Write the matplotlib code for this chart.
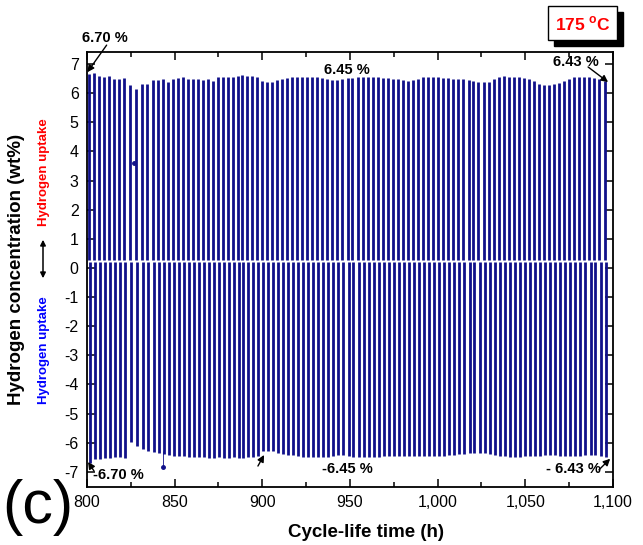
import numpy as np
import matplotlib
matplotlib.use("Agg")
import matplotlib.pyplot as plt
from matplotlib.ticker import MultipleLocator, FuncFormatter
from matplotlib.patches import Rectangle

plt.rcParams['font.family'] = ['Liberation Sans', 'DejaVu Sans']
plt.rcParams['axes.unicode_minus'] = False
plt.rcParams['mathtext.fontset'] = 'custom'
plt.rcParams['mathtext.bf'] = 'Liberation Sans:bold'
plt.rcParams['mathtext.rm'] = 'Liberation Sans'

# cycle start times (h), one per absorption/desorption column
cycle_times = [801.3, 804.2, 807.0, 809.9, 812.7, 815.6, 818.4, 821.3, 824.5, 828.0,
               831.5, 834.4, 837.8, 840.7, 843.5, 846.4, 849.2, 852.1, 854.9, 857.8,
               860.6, 863.5, 866.3, 869.2, 871.7, 874.6, 877.4, 880.3, 883.1, 886.0,
               888.3, 891.1, 894.0, 896.8,
               899.7, 902.6, 905.4, 908.3, 911.2, 914.1, 916.9, 919.8, 922.7, 925.6,
               928.4, 931.3, 934.2, 937.1, 939.9, 942.8, 945.7, 948.6, 951.4, 954.3,
               957.2, 960.1, 962.9, 965.8, 968.7, 971.6, 974.4, 977.3, 980.2, 983.1,
               985.9, 988.8, 991.7, 994.6, 997.4, 1000.3,
               1003.2, 1006.1, 1008.9, 1011.8, 1014.7, 1017.6, 1020.4, 1023.3, 1026.2,
               1029.1, 1031.9, 1034.8, 1037.7, 1040.6, 1043.4, 1046.3, 1049.2, 1052.1,
               1054.9, 1057.8, 1060.7, 1063.6, 1066.4, 1069.3, 1072.2, 1075.1, 1077.9,
               1080.8, 1083.7, 1086.6, 1089.4, 1092.3, 1095.2]

# max hydrogen uptake per cycle (wt%)
uptake_max = [6.66, 6.68, 6.58, 6.55, 6.58, 6.50, 6.50, 6.52, 6.28, 6.15,
              6.30, 6.32, 6.45, 6.45, 6.50, 6.37, 6.47, 6.53, 6.55, 6.50,
              6.48, 6.47, 6.45, 6.50, 6.42, 6.55, 6.57, 6.57, 6.57, 6.60,
              6.62, 6.60, 6.60, 6.55,
              6.42, 6.40, 6.40, 6.45, 6.50, 6.53, 6.55, 6.55, 6.56, 6.56,
              6.55, 6.55, 6.52, 6.48, 6.45, 6.44, 6.48, 6.52, 6.53, 6.55,
              6.55, 6.54, 6.55, 6.54, 6.53, 6.52, 6.50, 6.47, 6.44, 6.42,
              6.44, 6.48, 6.55, 6.56, 6.55, 6.55,
              6.52, 6.52, 6.50, 6.50, 6.48, 6.45, 6.42, 6.38, 6.37, 6.40,
              6.47, 6.55, 6.58, 6.56, 6.55, 6.55, 6.53, 6.50, 6.42, 6.33,
              6.28, 6.27, 6.30, 6.35, 6.42, 6.50, 6.54, 6.55, 6.55, 6.54,
              6.52, 6.47, 6.43]

# max hydrogen release per cycle (plotted negative)
release_max = [-6.68, -6.56, -6.55, -6.53, -6.52, -6.50, -6.50, -6.53, -5.98, -6.10,
               -6.22, -6.28, -6.32, -6.36, -6.40, -6.42, -6.44, -6.45, -6.47, -6.48,
               -6.48, -6.50, -6.50, -6.52, -6.52, -6.50, -6.52, -6.53, -6.50, -6.52,
               -6.52, -6.50, -6.48, -6.45,
               -6.30, -6.27, -6.30, -6.36, -6.40, -6.42, -6.43, -6.46, -6.48, -6.50,
               -6.50, -6.50, -6.50, -6.48, -6.45, -6.42, -6.42, -6.45, -6.48, -6.50,
               -6.50, -6.50, -6.50, -6.48, -6.46, -6.45, -6.45, -6.45, -6.44, -6.44,
               -6.45, -6.46, -6.45, -6.45, -6.45, -6.44,
               -6.44, -6.43, -6.42, -6.40, -6.38, -6.36, -6.35, -6.35, -6.36, -6.38,
               -6.42, -6.45, -6.47, -6.48, -6.48, -6.48, -6.47, -6.46, -6.45, -6.44,
               -6.42, -6.42, -6.43, -6.45, -6.46, -6.46, -6.45, -6.44, -6.42, -6.42,
               -6.43, -6.45, -6.50]

# stray points
stray_t = [826.8, 843.1]
stray_y = [3.6, -6.83]

navy = '#10108a'

fig = plt.figure(figsize=(6.43, 5.45), dpi=100)
ax = fig.add_axes([0.1353, 0.1064, 0.818, 0.798])

t = np.array(cycle_times)
ax.vlines(t, 0.29, uptake_max, colors=navy, linewidth=2.0)
ax.vlines(t + 0.6, 0.22, release_max, colors=navy, linewidth=2.0)
ax.plot(stray_t, stray_y, 'o', color=navy, ms=2.5)
ax.vlines(stray_t[1], -6.3, stray_y[1], colors=navy, linewidth=0.6)

ax.set_xlim(800, 1100)
ax.set_ylim(-7.52, 7.41)
ax.xaxis.set_major_locator(MultipleLocator(50))
ax.xaxis.set_minor_locator(MultipleLocator(25))
ax.yaxis.set_major_locator(MultipleLocator(1))
ax.xaxis.set_major_formatter(FuncFormatter(lambda v, p: f'{v:,.0f}'))
ax.tick_params(which='both', direction='in', top=True, right=True, width=1.1)
ax.tick_params(which='major', length=6, labelsize=11.5, pad=6)
ax.tick_params(which='minor', length=3.5)
for s in ax.spines.values():
    s.set_linewidth(1.3)

ax.set_xlabel('Cycle-life time (h)', fontsize=13.5, fontweight='bold')
ax.xaxis.set_label_coords(0.53, -0.085)
ax.set_ylabel('Hydrogen concentration (wt%)', fontsize=13.5, fontweight='bold')
ax.yaxis.set_label_coords(-0.117, 0.5)

fig.text(44 / 643, 1 - 172 / 545, 'Hydrogen uptake', color='red', rotation=90,
         fontsize=9.5, fontweight='bold', ha='center', va='center')
fig.text(44 / 643, 1 - 350 / 545, 'Hydrogen uptake', color='blue', rotation=90,
         fontsize=9.5, fontweight='bold', ha='center', va='center')
ax.annotate('', xy=(43 / 643, 1 - 237 / 545), xytext=(43 / 643, 1 - 281 / 545),
            xycoords='figure fraction', textcoords='figure fraction',
            arrowprops=dict(arrowstyle='<|-|>', color='k', lw=1.1, mutation_scale=8))

fig.text(38 / 643, 1 - 508 / 545, '(c)', fontsize=44, ha='center', va='center')

# value labels
lbl = dict(fontsize=10.5, fontweight='bold', ha='center', va='center', clip_on=False)
ax.text(810.3, 7.9, '6.70 %', **lbl)
ax.text(948.3, 6.8, '6.45 %', **lbl)
ax.text(1079, 7.07, '6.43 %', **lbl)
ax.text(817.7, -7.1, '-6.70 %', **lbl)
ax.text(948.3, -6.9, '-6.45 %', **lbl)
ax.text(1077.2, -6.9, '- 6.43 %', **lbl)

# arrows (tail -> tip)
arrow_tails = [(811.2, 7.65), (1085.8, 6.9), (804.0, -6.97), (897.5, -6.8), (1092.0, -6.93)]
arrow_tips = [(800.2, 6.72), (1097.2, 6.38), (800.6, -6.66), (901.0, -6.42), (1098.4, -6.55)]
for tail, tip in zip(arrow_tails, arrow_tips):
    ax.annotate('', xy=tip, xytext=tail, annotation_clip=False,
                arrowprops=dict(arrowstyle='-|>', color='k', lw=1, mutation_scale=10,
                                shrinkA=0, shrinkB=0))

# temperature box with drop shadow
fig.patches.append(Rectangle((554 / 643, 1 - 46 / 545), 69 / 643, 34 / 545,
                             transform=fig.transFigure, facecolor='black',
                             edgecolor='black', zorder=5))
fig.patches.append(Rectangle((548 / 643, 1 - 40 / 545), 69 / 643, 34 / 545,
                             transform=fig.transFigure, facecolor='white',
                             edgecolor='black', lw=1, zorder=6))
fig.text(582.5 / 643, 1 - 24 / 545, r'175 $^{\mathbf{o}}$C', color='red', fontsize=12.5,
         fontweight='bold', ha='center', va='center', zorder=7)

fig.savefig('out.png', dpi=100)
